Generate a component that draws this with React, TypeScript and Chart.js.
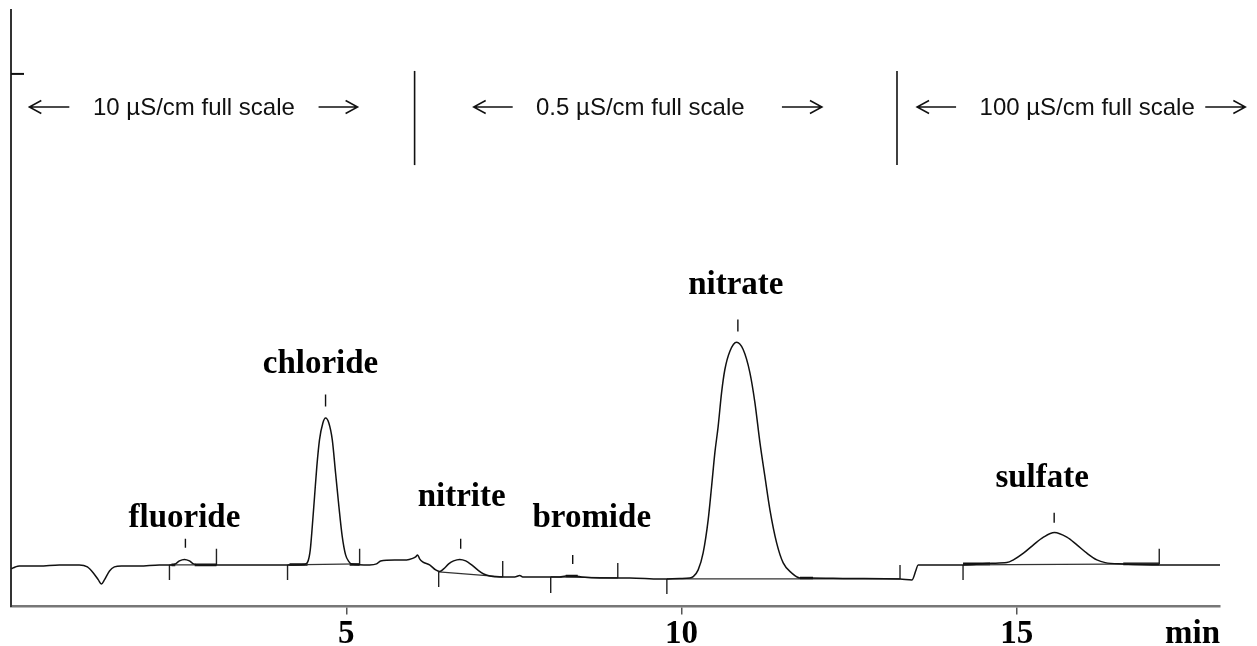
import React, { useEffect, useRef } from "react";
import { Chart, registerables } from "chart.js";

Chart.register(...registerables);

// Retention time (min) and detector response (arbitrary units)
const timeMin = [
  0.004, 0.064, 0.124, 0.422, 0.721, 1.019, 1.139, 1.228, 1.303, 1.348, 1.393, 1.469, 1.542, 1.646, 1.915,
  2.213, 2.393, 2.452, 2.512, 2.586, 2.661, 2.721, 2.81, 3.258, 3.706, 4.153, 4.377, 4.427, 4.463, 4.493,
  4.527, 4.561, 4.601, 4.651, 4.691, 4.74, 4.791, 4.84, 4.89, 4.94, 4.99, 5.039, 5.079, 5.348, 5.452,
  5.512, 5.721, 5.9, 5.99, 6.034, 6.064, 6.094, 6.139, 6.243, 6.333, 6.393, 6.452, 6.527, 6.601, 6.691,
  6.781, 6.87, 6.96, 7.049, 7.139, 7.288, 7.512, 7.587, 7.631, 7.885, 8.183, 8.273, 8.407, 8.512, 8.781,
  9.228, 9.676, 9.975, 10.124, 10.173, 10.248, 10.322, 10.397, 10.448, 10.497, 10.546, 10.597, 10.646,
  10.721, 10.821, 10.919, 11.019, 11.094, 11.169, 11.243, 11.318, 11.418, 11.516, 11.642, 11.766, 11.915,
  12.512, 13.258, 13.437, 13.497, 13.527, 13.855, 14.198, 14.627, 14.851, 14.949, 15.099, 15.248, 15.397,
  15.561, 15.746, 15.896, 16.045, 16.194, 16.318, 16.587, 17.139, 18.034,
];
const signal = [
  7.06, 7.43, 7.62, 7.62, 7.81, 7.81, 7.43, 6.3, 4.99, 4.23, 4.99, 6.68, 7.43, 7.62, 7.62,
  7.81, 7.81, 8.0, 8.56, 8.84, 8.56, 8.0, 7.81, 7.81, 7.81, 7.81, 7.9, 8.43, 10.63, 15.01,
  20.66, 26.3, 31.33, 34.47, 35.41, 34.47, 31.33, 25.12, 18.78, 13.13, 9.69, 8.43, 8.0, 7.81, 8.0,
  8.56, 8.75, 8.75, 9.03, 9.31, 9.69, 8.94, 8.37, 7.81, 6.87, 6.59, 7.06, 8.0, 8.56, 8.84,
  8.56, 7.81, 6.87, 6.11, 5.74, 5.55, 5.55, 5.83, 5.55, 5.55, 5.55, 5.74, 5.74, 5.55, 5.36,
  5.36, 5.17, 5.27, 5.36, 5.61, 6.87, 10.07, 16.27, 22.54, 28.88, 33.83, 40.17, 44.5,
  47.94, 49.63, 48.26, 43.93, 38.29, 30.76, 24.42, 18.16, 11.95, 8.18, 6.3, 5.36, 5.36,
  5.27, 5.17, 4.99, 6.87, 7.81, 7.81, 7.81, 8.13, 8.24, 8.75, 10.01, 11.57, 13.02,
  13.89, 13.02, 11.57, 10.01, 8.75, 8.24, 8.0, 7.81, 7.81,
];

// Peak names, label anchors and the small marks above each peak
const peakNames = ["fluoride", "chloride", "nitrite", "bromide", "nitrate", "sulfate"];
const peakLabelX = [2.586, 4.616, 6.72, 8.661, 10.81, 15.378];
const peakLabelY = [14.96, 43.93, 18.91, 14.96, 58.61, 22.48];
const peakMarkX = [2.601, 4.691, 6.706, 8.377, 10.84, 15.557];
const peakMarkTop = [12.7, 39.79, 12.7, 9.69, 53.9, 17.59];
const peakMarkBottom = [11.01, 37.54, 10.82, 8.0, 51.65, 15.71];

// Integration start / end marks and the drawn baselines between them
const integStartX = [2.363, 4.124, 6.378, 8.049, 9.781, 14.198];
const integStartBase = [7.81, 7.81, 6.49, 5.55, 5.17, 7.81];
const integStartLow = [4.99, 4.99, 3.67, 2.54, 2.35, 4.99];
const integEndX = [3.064, 5.199, 7.333, 9.049, 13.258, 17.124];
const integEndBase = [7.81, 8.0, 5.55, 5.36, 5.17, 8.0];
const integEndHigh = [10.82, 10.82, 8.56, 8.18, 7.81, 10.82];

// Heavier baseline pieces next to the integration marks
const boldFromX = [2.393, 2.739, 4.153, 5.05, 8.273, 11.766, 14.198, 16.587];
const boldToX = [2.45, 3.064, 4.422, 5.199, 8.452, 11.96, 14.6, 17.124];
const boldY = [7.81, 7.81, 7.9, 7.9, 5.74, 5.36, 8.0, 8.0];

// Detector range annotations
const rangeLabels = ["10 \u00b5S/cm full scale", "0.5 \u00b5S/cm full scale", "100 \u00b5S/cm full scale"];
const rangeLabelX = [2.728, 9.385, 16.049];
const rangeLabelY = 93.79;
const leftArrowFrom = [0.273, 6.9, 13.512];
const leftArrowTo = [0.87, 7.482, 14.094];
const rightArrowFrom = [4.587, 11.497, 17.81];
const rightArrowTo = [5.169, 12.094, 18.408];
const rangeSwitchX = [6.019, 13.213];
const switchTop = 100.56;
const switchBottom = 82.88;

const xTicks = [5, 10, 15];
const yTicks = [100];
const xUnit = "min";

function segments(xs: number[], y1: number[], xs2: number[], y2: number[]) {
  const out: any[] = [];
  xs.forEach((x, i) => {
    out.push({ x, y: y1[i] });
    out.push({ x: xs2[i], y: y2[i] });
    out.push({ x: xs2[i], y: null });
  });
  return out;
}

const annotPlugin = {
  id: "annot",
  afterDraw(chart: any) {
    const { ctx, scales, chartArea } = chart;
    const x = scales.x;
    const y = scales.y;
    ctx.save();
    ctx.strokeStyle = "#111";
    ctx.fillStyle = "#000";

    // inward y tick
    ctx.lineWidth = 2;
    y.ticks.forEach((tk: any) => {
      const py = y.getPixelForValue(tk.value);
      ctx.beginPath();
      ctx.moveTo(chartArea.left, py);
      ctx.lineTo(chartArea.left + 13, py);
      ctx.stroke();
    });

    // range switch dividers
    ctx.lineWidth = 1.6;
    rangeSwitchX.forEach((t) => {
      const px = x.getPixelForValue(t);
      ctx.beginPath();
      ctx.moveTo(px, y.getPixelForValue(switchTop));
      ctx.lineTo(px, y.getPixelForValue(switchBottom));
      ctx.stroke();
    });

    // arrows
    const ay = y.getPixelForValue(rangeLabelY);
    ctx.lineWidth = 1.5;
    const arrow = (a: number, b: number, tipLeft: boolean) => {
      const pa = x.getPixelForValue(a);
      const pb = x.getPixelForValue(b);
      ctx.beginPath();
      ctx.moveTo(pa, ay);
      ctx.lineTo(pb, ay);
      const tip = tipLeft ? pa : pb;
      const d = tipLeft ? 12 : -12;
      ctx.moveTo(tip + d, ay - 6.5);
      ctx.lineTo(tip, ay);
      ctx.lineTo(tip + d, ay + 6.5);
      ctx.stroke();
    };
    leftArrowFrom.forEach((a, i) => arrow(a, leftArrowTo[i], true));
    rightArrowFrom.forEach((a, i) => arrow(a, rightArrowTo[i], false));

    ctx.font = '24px "Liberation Sans", Arial, sans-serif';
    ctx.fillStyle = "#111";
    ctx.textAlign = "center";
    ctx.textBaseline = "middle";
    rangeLabels.forEach((s, i) => {
      ctx.fillText(s, x.getPixelForValue(rangeLabelX[i]), ay + 1);
    });

    // peak labels
    ctx.fillStyle = "#000";
    ctx.font = 'bold 33px "Liberation Serif", "Times New Roman", serif';
    ctx.textBaseline = "alphabetic";
    peakNames.forEach((s, i) => {
      ctx.fillText(s, x.getPixelForValue(peakLabelX[i]), y.getPixelForValue(peakLabelY[i]));
    });

    // unit label
    ctx.textAlign = "right";
    ctx.fillText(xUnit, chartArea.right, chartArea.bottom + 36.5);
    ctx.restore();
  },
};

export default function App() {
  const ref = useRef<HTMLCanvasElement | null>(null);
  useEffect(() => {
    if (!ref.current) return;
    const chart = new Chart(ref.current, {
      type: "line",
      data: {
        datasets: [
          {
            label: "trace",
            data: timeMin.map((t, i) => ({ x: t, y: signal[i] })),
            borderColor: "#111",
            borderWidth: 1.5,
            pointRadius: 0,
            cubicInterpolationMode: "monotone",
          } as any,
          {
            label: "baselines",
            data: segments(integStartX, integStartBase, integEndX, integEndBase),
            borderColor: "#333",
            borderWidth: 1.2,
            pointRadius: 0,
            spanGaps: false,
          },
          {
            label: "bold",
            data: segments(boldFromX, boldY, boldToX, boldY),
            borderColor: "#111",
            borderWidth: 2.6,
            pointRadius: 0,
            spanGaps: false,
          },
          {
            label: "startMarks",
            data: segments(integStartX, integStartBase, integStartX, integStartLow),
            borderColor: "#222",
            borderWidth: 1.4,
            pointRadius: 0,
            spanGaps: false,
          },
          {
            label: "endMarks",
            data: segments(integEndX, integEndBase, integEndX, integEndHigh),
            borderColor: "#222",
            borderWidth: 1.4,
            pointRadius: 0,
            spanGaps: false,
          },
          {
            label: "peakMarks",
            data: segments(peakMarkX, peakMarkBottom, peakMarkX, peakMarkTop),
            borderColor: "#111",
            borderWidth: 1.4,
            pointRadius: 0,
            spanGaps: false,
          },
        ],
      },
      options: {
        animation: false,
        responsive: true,
        maintainAspectRatio: false,
        layout: { padding: { left: 11, top: 10, right: 37, bottom: 0 } },
        plugins: { legend: { display: false }, tooltip: { enabled: false } },
        elements: { line: { tension: 0 } },
        scales: {
          x: {
            type: "linear",
            min: 0,
            max: 18.03,
            afterBuildTicks: (s: any) => {
              s.ticks = xTicks.map((v) => ({ value: v }));
            },
            afterFit: (s: any) => {
              s.height = 39.5;
            },
            grid: { drawOnChartArea: false, drawTicks: true, tickLength: 8, color: "#555", lineWidth: 1.5 },
            border: { display: true, color: "#777", width: 2.5 },
            ticks: {
              autoSkip: false,
              maxRotation: 0,
              padding: 0,
              color: "#000",
              font: { family: '"Liberation Serif", "Times New Roman", serif', size: 33, weight: "bold" },
            },
          },
          y: {
            type: "linear",
            min: 0,
            max: 112,
            afterBuildTicks: (s: any) => {
              s.ticks = yTicks.map((v) => ({ value: v }));
            },
            afterFit: (s: any) => {
              s.width = 0;
            },
            grid: { display: false },
            border: { display: true, color: "#333", width: 2 },
            ticks: { display: false },
          },
        },
      } as any,
      plugins: [annotPlugin],
    });
    return () => chart.destroy();
  }, []);

  return (
    <div style={{ position: "absolute", left: 0, top: 0, width: 1257, height: 646, background: "#fff" }}>
      <canvas ref={ref} />
    </div>
  );
}
